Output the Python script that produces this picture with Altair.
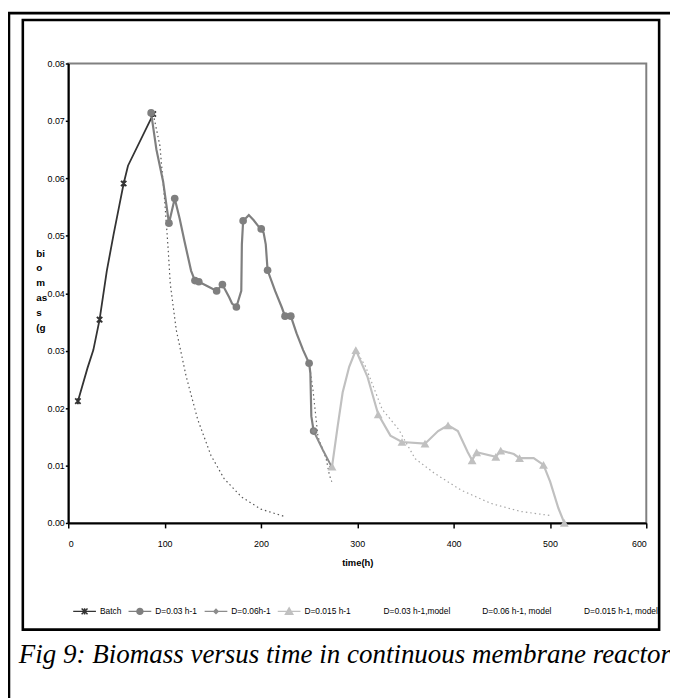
import altair as alt
import pandas as pd

SANS = "Liberation Sans, Arial, sans-serif"

# ---------------- data ----------------
batch_t = [10, 20, 26, 32.5, 40, 47, 53, 57.5, 62, 88.2]
batch_x = [0.0212, 0.0270, 0.0301, 0.0354, 0.0439, 0.0502, 0.0553, 0.0591, 0.0622, 0.0712]
batch_m = [1, 0, 0, 1, 0, 0, 0, 1, 0, 1]

d03_t = [86, 91.5, 98.5, 104.5, 110.5, 115.6, 120.7, 127.5, 131.5, 135.5, 144.6, 154, 160, 167, 170,
         174.5, 179.6, 180.2, 181.5, 187.4, 192.5, 197.6, 200.3, 202.8, 205, 206.9, 214.7, 221.5,
         225, 231, 237, 243.8, 250, 251.3, 252.3, 254.7]
d03_x = [0.0714, 0.0650, 0.0594, 0.0522, 0.0565, 0.0530, 0.0490, 0.0439, 0.0422, 0.0420, 0.0412, 0.0404,
         0.0415, 0.0393, 0.0382, 0.0376, 0.0404, 0.0485, 0.0526, 0.0536, 0.0527, 0.0516, 0.0512, 0.0505,
         0.0485, 0.0440, 0.0404, 0.0376, 0.0360, 0.0360, 0.0330, 0.0301, 0.0278, 0.0261, 0.0186, 0.0160]
d03_m = [1, 0, 0, 1, 1, 0, 0, 0, 1, 1, 0, 1, 1, 0, 0, 1, 0, 0, 1, 0, 0, 0, 1, 0, 0, 1, 0, 0,
         1, 1, 0, 0, 1, 0, 0, 1]

d06_t = [254.7, 264, 273.3]
d06_x = [0.0160, 0.0128, 0.0098]
d06_m = [1, 0, 1]

d015_t = [273.8, 279.7, 284.8, 291.6, 298.5, 310.5, 321.7, 334.4, 346.4, 370.3, 383.9, 394.2, 404.4,
          414.7, 419.2, 423.9, 443.8, 448.9, 455.7, 462.5, 468.4, 483.1, 493.3, 500.2, 508.7, 514.9]
d015_x = [0.0098, 0.0169, 0.0227, 0.0272, 0.0301, 0.0255, 0.0189, 0.0152, 0.0141, 0.0138, 0.0160, 0.0170,
          0.0160, 0.0123, 0.0109, 0.0123, 0.0115, 0.0126, 0.0123, 0.0120, 0.0113, 0.0113, 0.0101, 0.0072,
          0.0026, 0.0000]
d015_m = [1, 0, 0, 0, 1, 0, 1, 0, 1, 1, 0, 1, 0, 0, 1, 1, 1, 1, 0, 0, 1, 0, 1, 0, 0, 1]

m03_t = [88.2, 95.1, 100.2, 103.6, 105.9, 112.1, 122.4, 134.4, 148, 161.8, 180, 200, 224.9]
m03_x = [0.0712, 0.0657, 0.0559, 0.0479, 0.0416, 0.0336, 0.0255, 0.0180, 0.0118, 0.0077, 0.0045,
         0.0024, 0.0011]

m06_t = [250, 254, 259.2, 267.7, 271.1, 273.5]
m06_x = [0.0278, 0.0232, 0.0150, 0.0112, 0.0083, 0.0072]

m015_t = [298.5, 308.7, 325.8, 342.9, 360, 380.5, 407.9, 438.7, 469.4, 500.2]
m015_x = [0.0301, 0.0272, 0.0198, 0.0163, 0.0112, 0.0086, 0.0057, 0.0034, 0.0020, 0.0013]

x_ticks = [0, 100, 200, 300, 400, 500, 600]
y_ticks = [0.00, 0.01, 0.02, 0.03, 0.04, 0.05, 0.06, 0.07, 0.08]

legend_labels = ["Batch", "D=0.03 h-1", "D=0.06h-1", "D=0.015 h-1",
                 "D=0.03 h-1,model", "D=0.06 h-1, model", "D=0.015 h-1, model"]
caption = "Fig 9: Biomass versus time in continuous membrane reactor"
y_title = ["bi", "o", "m", "as", "s", "(g"]
x_title = "time(h)"

# ---------------- styles ----------------
C_BATCH = "#333333"
C_D03 = "#7f7f7f"
C_D06 = "#8c8c8c"
C_D015 = "#c0c0c0"
C_M03 = "#555555"
C_M06 = "#666666"
C_M015 = "#a6a6a6"

legend_colors = [C_BATCH, C_D03, C_D06, C_D015, "#ffffff", "#ffffff", "#ffffff"]
ring = lambda r: f"M{-r},0A{r},{r} 0 1,0 {r},0A{r},{r} 0 1,0 {-r},0Z"
legend_paths = [
    "M-1,0L1,0M-0.26,-0.26L0.26,0.26M-0.26,0.26L0.26,-0.26M0,-0.28L0,0.28",
    "M-1,0L1,0" + ring(0.26) + ring(0.15) + ring(0.05),
    "M-1,0L1,0M0,-0.18L0.18,0L0,0.18L-0.18,0Z" + "M0,-0.08L0.08,0L0,0.08L-0.08,0Z",
    "M-1,0L1,0M0,-0.3L0.32,0.26L-0.32,0.26ZM0,-0.12L0.14,0.14L-0.14,0.14Z",
    "M-0.5,0L-0.5,0",
    "M-0.5,0L-0.5,0",
    "M-0.5,0L-0.5,0",
]

W, H = 585, 465
PAD = {"left": 61, "top": 52, "right": 24, "bottom": 173}

x_enc = alt.X("t:Q", scale=alt.Scale(domain=[0, 600], nice=False, zero=False),
              axis=alt.Axis(values=x_ticks, format="d", title=x_title, grid=False,
                            domainColor="black", domainWidth=2, tickColor="black", tickWidth=1.5,
                            tickSize=5, labelFont=SANS, labelFontSize=9, labelColor="black",
                            labelPadding=12, titleFont=SANS, titleFontSize=9.5,
                            titleFontWeight="bold", titleColor="black", titleY=43,
                            titleBaseline="alphabetic"))
y_enc = alt.Y("v:Q", scale=alt.Scale(domain=[0, 0.08], nice=False, zero=False),
              axis=alt.Axis(values=y_ticks, format=".2f", title=y_title, grid=False,
                            domainColor="black", domainWidth=2, tickColor="black", tickWidth=1.5,
                            tickSize=3, labelFont=SANS, labelFontSize=9, labelColor="black",
                            labelPadding=1, titleFont=SANS, titleFontSize=10,
                            titleFontWeight="bold", titleColor="black", titleAngle=0,
                            titleAlign="left", titleBaseline="top", titleX=-33, titleY=187,
                            titleLineHeight=15))


def df(t, v, m=None):
    d = pd.DataFrame({"t": t, "v": v})
    if m is not None:
        d["m"] = m
    return d


layers = []

# frames (decoration)
one = pd.DataFrame({"caption": [caption]})
layers.append(alt.Chart(one).mark_rect(fillOpacity=0, stroke="black", strokeWidth=2.6).encode(
    x=alt.value(-60), x2=alt.value(700), y=alt.value(-51), y2=alt.value(700)))
layers.append(alt.Chart(one).mark_rect(fillOpacity=0, stroke="black", strokeWidth=2.6).encode(
    x=alt.value(-46), x2=alt.value(598), y=alt.value(-44), y2=alt.value(573)))

# model curves (dotted)
for t, v, c in [(m03_t, m03_x, C_M03), (m06_t, m06_x, C_M06), (m015_t, m015_x, C_M015)]:
    layers.append(alt.Chart(df(t, v)).mark_line(color=c, strokeWidth=1.2, strokeDash=[1.5, 3]).encode(
        x=x_enc, y=y_enc, order="t:Q"))

# measured lines
for t, v, c, w in [(batch_t, batch_x, C_BATCH, 1.8), (d03_t, d03_x, C_D03, 2.2),
                   (d06_t, d06_x, C_D06, 2.0), (d015_t, d015_x, C_D015, 2.2)]:
    layers.append(alt.Chart(df(t, v)).mark_line(color=c, strokeWidth=w).encode(
        x=x_enc, y=y_enc, order="t:Q"))

# markers
batch_shape = "M-1,-1L1,1M-1,1L1,-1M0,-1.1L0,1.1"
layers.append(alt.Chart(df(batch_t, batch_x, batch_m)).transform_filter("datum.m == 1").mark_point(
    shape=batch_shape, filled=False, color=C_BATCH, strokeWidth=1.8, size=30, opacity=1).encode(
    x=x_enc, y=y_enc))
layers.append(alt.Chart(df(d03_t, d03_x, d03_m)).transform_filter("datum.m == 1").mark_point(
    shape="circle", filled=True, color=C_D03, size=60, opacity=1).encode(x=x_enc, y=y_enc))
layers.append(alt.Chart(df(d06_t, d06_x, d06_m)).transform_filter("datum.m == 1").mark_point(
    shape="diamond", filled=True, color=C_D06, size=30, opacity=1).encode(x=x_enc, y=y_enc))
layers.append(alt.Chart(df(d015_t, d015_x, d015_m)).transform_filter("datum.m == 1").mark_point(
    shape="triangle-up", filled=True, color=C_D015, size=80, opacity=1).encode(x=x_enc, y=y_enc))

# legend (driven by the scales, no visible marks)
leg = alt.Legend(orient="none", legendX=4, legendY=542, direction="horizontal", columns=7,
                 gridAlign="none", title=None, symbolSize=529, symbolStrokeWidth=1.5,
                 labelFont=SANS, labelFontSize=8.5, labelColor="black", labelOffset=3,
                 columnPadding=4, symbolOpacity=1)
leg_df = pd.DataFrame({"series": legend_labels})
layers.append(alt.Chart(leg_df).transform_filter("false").mark_point(filled=False).encode(
    color=alt.Color("series:N", scale=alt.Scale(domain=legend_labels, range=legend_colors), legend=leg),
    shape=alt.Shape("series:N", scale=alt.Scale(domain=legend_labels, range=legend_paths), legend=leg)))

# caption
layers.append(alt.Chart(one).mark_text(font="Liberation Serif", fontStyle="italic", fontSize=27.3,
                                       align="left", baseline="alphabetic", color="black").encode(
    x=alt.value(-50), y=alt.value(607), text="caption:N"))

chart = alt.layer(*layers).properties(
    width=W, height=H, padding=PAD,
    autosize=alt.AutoSizeParams(type="none"),
    background="white",
).configure_view(stroke="#808080", strokeWidth=2)

chart.save("out.html", embed_options={"renderer": "svg", "actions": False})
